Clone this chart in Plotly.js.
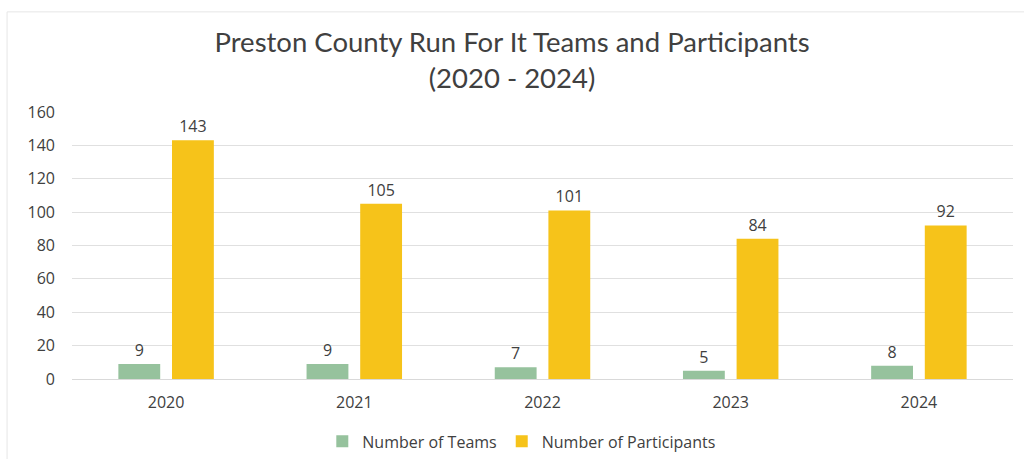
<!DOCTYPE html>
<html>
<head>
<meta charset="utf-8">
<script src="https://cdn.plot.ly/plotly-3.0.1.min.js"></script>
<style>html,body{margin:0;padding:0;background:#fff;}#chart{width:1024px;height:459px;}</style>
</head>
<body>
<div id="chart"></div>
<script>
const years = ['2020', '2021', '2022', '2023', '2024'];
const teams = [9, 9, 7, 5, 8];
const participants = [143, 105, 101, 84, 92];
const yTicks = [0, 20, 40, 60, 80, 100, 120, 140, 160];

const labelFont = {family: 'Open Sans, sans-serif', size: 16, color: '#404040'};

const data = [
  {
    type: 'bar', name: 'Number of Teams', x: years, y: teams,
    marker: {color: '#96c29d'},
    text: teams.map(String), textposition: 'outside', cliponaxis: false,
    textfont: labelFont
  },
  {
    type: 'bar', name: 'Number of Participants', x: years, y: participants,
    marker: {color: '#f6c31a'},
    text: participants.map(String), textposition: 'outside', cliponaxis: false,
    textfont: labelFont
  }
];

const layout = {
  width: 1024, height: 459,
  margin: {l: 72, r: 11, t: 112, b: 80, autoexpand: false},
  paper_bgcolor: '#ffffff', plot_bgcolor: '#ffffff',
  title: {
    text: 'Preston County Run For It Teams and Participants<br>(2020 - 2024)',
    font: {family: 'Lato, sans-serif', size: 27.5, color: '#404040'},
    x: 0.5, xanchor: 'center', y: 0.887, yanchor: 'top'
  },
  barmode: 'group', bargap: 0.43, bargroupgap: 0.22,
  xaxis: {
    type: 'category', tickvals: years, showgrid: false, zeroline: false,
    showline: true, linecolor: '#d9d9d9', ticks: '',
    tickfont: {family: 'Open Sans, sans-serif', size: 16, color: '#404040'},
    ticklabelstandoff: 9
  },
  yaxis: {
    range: [0, 160], tickvals: yTicks, showgrid: true, gridcolor: '#e0e0e0',
    zeroline: false, showline: false, ticks: '',
    tickfont: {family: 'Open Sans, sans-serif', size: 16, color: '#404040'},
    ticklabelstandoff: 16
  },
  showlegend: true,
  legend: {
    orientation: 'h', x: 0.478, xanchor: 'center', y: -0.17, yanchor: 'top',
    font: {family: 'Open Sans, sans-serif', size: 16, color: '#404040'},
    traceorder: 'normal', itemwidth: 30
  },
  shapes: [{
    type: 'rect', xref: 'paper', yref: 'paper',
    x0: -0.069, x1: 1.03, y0: -0.4, y1: 1.375,
    line: {color: '#e6e6e6', width: 1}
  }]
};

Plotly.newPlot('chart', data, layout, {displayModeBar: false, staticPlot: true});
</script>
</body>
</html>
